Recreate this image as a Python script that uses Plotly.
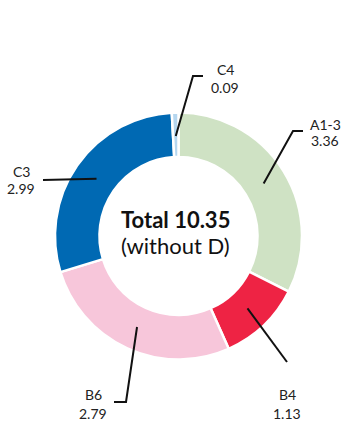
import math
import plotly.graph_objects as go

# ---- data ----
labels = ["A1-3", "B4", "B6", "C3", "C4"]
values = [3.36, 1.13, 2.79, 2.99, 0.09]
value_labels = ["3.36", "1.13", "2.79", "2.99", "0.09"]
colors = ["#cfe2c4", "#ee2344", "#f7c6da", "#0069b3", "#b5d6ef"]
center_title = "Total 10.35"
center_sub = "(without D)"

W, H = 342, 423
CX, CY, R = 178.5, 236, 123.5
HOLE = 0.64
FONT = "Lato"


def px(x):
    return x / W


def py(y):
    return 1 - y / H


fig = go.Figure(go.Pie(
    labels=labels, values=values, sort=False, direction="clockwise", rotation=0,
    hole=HOLE, marker=dict(colors=colors, line=dict(color="white", width=2.5)),
    textinfo="none", hoverinfo="label+value", showlegend=False,
    domain=dict(x=[px(CX - R), px(CX + R)], y=[py(CY + R), py(CY - R)]),
))

# leader-line layout (elbow / end points, label x and the two text-line y's, in pixels)
leader = {
    "A1-3": dict(pts=[(293, 131), (303, 131)], tx=325, ty=(125, 140)),
    "B4": dict(pts=[(287, 362)], tx=287, ty=(394, 413)),
    "B6": dict(pts=[(126, 402), (114, 402)], tx=93, ty=(394, 413)),
    "C3": dict(pts=[(43, 180)], tx=21, ty=(172, 188)),
    "C4": dict(pts=[(193, 76), (203, 76)], tx=225, ty=(69, 88)),
}

total = sum(values)
cum = 0.0
shapes, annotations = [], []
ring_mid = 100
for lab, v, vl in zip(labels, values, value_labels):
    ang = 2 * math.pi * (cum + v / 2) / total
    cum += v
    sx, sy = CX + ring_mid * math.sin(ang), CY - ring_mid * math.cos(ang)
    cfg = leader[lab]
    pts = [(sx, sy)] + cfg["pts"]
    path = "M " + " L ".join(f"{px(x):.5f},{py(y):.5f}" for x, y in pts)
    shapes.append(dict(type="path", xref="paper", yref="paper", path=path,
                       line=dict(color="#111111", width=2)))
    for txt, ty in zip((lab, vl), cfg["ty"]):
        annotations.append(dict(x=px(cfg["tx"]), y=py(ty), xref="paper", yref="paper",
                                text=txt, showarrow=False,
                                font=dict(family=FONT, size=14, color="#222222"),
                                xanchor="center", yanchor="middle"))

annotations.append(dict(x=px(175), y=py(219), xref="paper", yref="paper",
                        text=f"<b>{center_title}</b>", showarrow=False,
                        font=dict(family=FONT, size=22, color="#111111"),
                        yanchor="middle"))
annotations.append(dict(x=px(175), y=py(246), xref="paper", yref="paper",
                        text=center_sub, showarrow=False,
                        font=dict(family=FONT, size=22, color="#111111"),
                        yanchor="middle"))

fig.update_layout(width=W, height=H, margin=dict(l=0, r=0, t=0, b=0),
                  paper_bgcolor="white", plot_bgcolor="white",
                  shapes=shapes, annotations=annotations)
fig.write_html("out.html", config={"displayModeBar": False},
               post_script="document.body.style.margin='0';"
                           "document.body.style.overflow='hidden';")
